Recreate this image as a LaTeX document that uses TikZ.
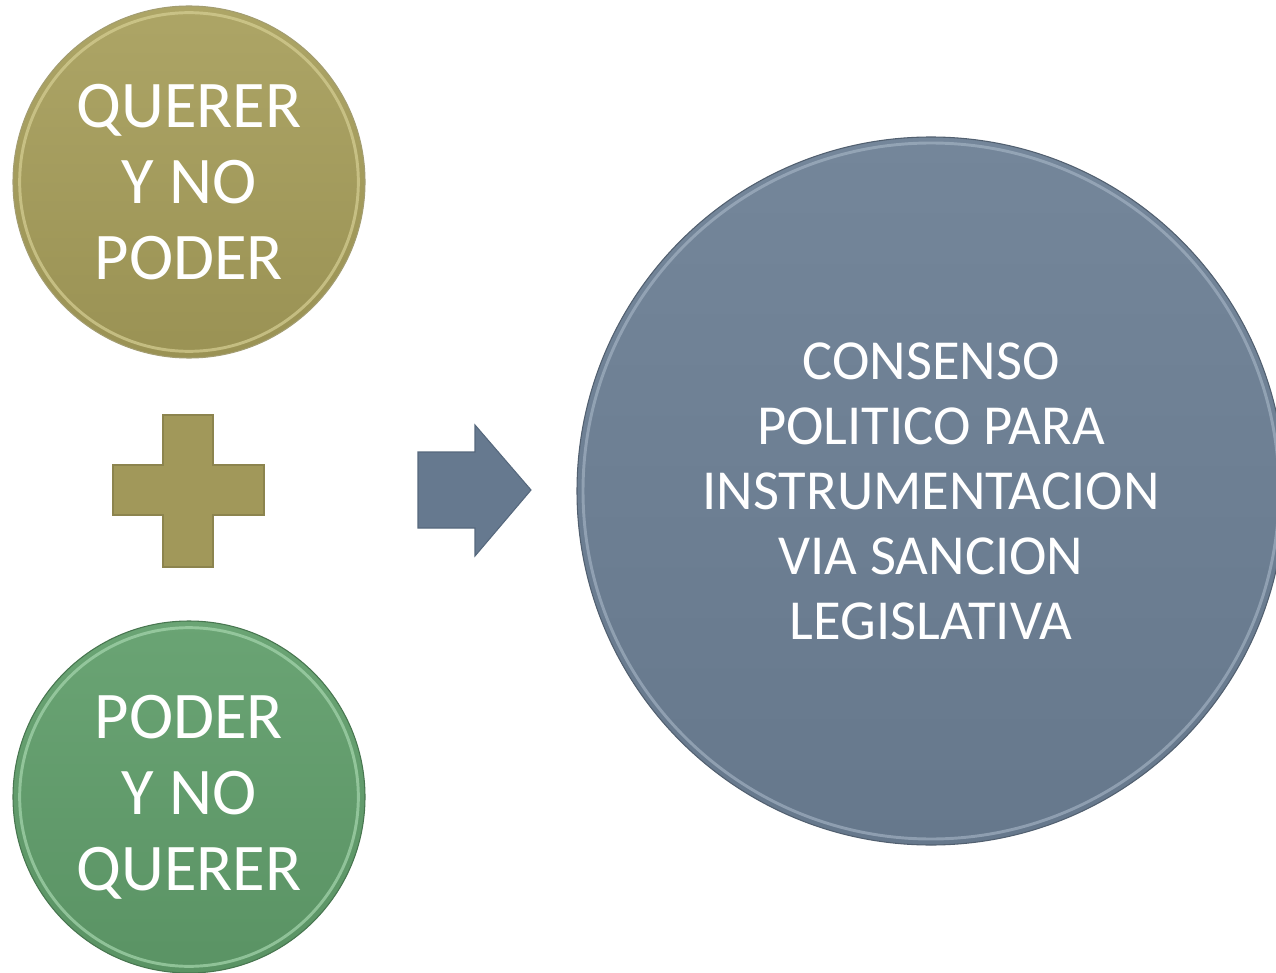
\documentclass[tikz,border=0pt]{standalone}
\usepackage{fontspec}
\setmainfont{Carlito}
\begin{document}
\begin{tikzpicture}[x=0.75pt,y=-0.75pt]
\useasboundingbox (0,0) rectangle (1276,973);
\definecolor{olivelt}{HTML}{ADA566}
\definecolor{olivedk}{HTML}{9A9254}
\definecolor{olivert}{HTML}{D6CF94}
\definecolor{olivepl}{HTML}{A1985A}
\definecolor{oliveln}{HTML}{8C844E}
\definecolor{greenlt}{HTML}{6AA474}
\definecolor{greendk}{HTML}{5A9364}
\definecolor{greenrt}{HTML}{A6D6AE}
\definecolor{slatelt}{HTML}{74869A}
\definecolor{slatedk}{HTML}{66788C}
\definecolor{slatert}{HTML}{A9B8C8}
\definecolor{arrowfill}{HTML}{66798F}
\definecolor{arrowline}{HTML}{56687D}
\tikzset{
  disc/.style={circle, inner sep=0pt, text=white, align=center, shading angle=45},
  smalltext/.style={font=\fontsize{50}{57}\selectfont},
  bigtext/.style={font=\fontsize{42.4}{48.75}\selectfont},
  rim/.style={line width=2.2pt}
}
% top circle
\node[disc, smalltext, minimum size=264pt, top color=olivelt, bottom color=olivedk, draw=oliveln!80, line width=0.8pt] (q) at (189,182) {QUERER\\Y NO\\PODER};
\draw[rim, olivert, opacity=0.7] (q.center) circle (127pt);
% bottom circle
\node[disc, smalltext, minimum size=264pt, top color=greenlt, bottom color=greendk, draw=greendk!80!black, line width=0.8pt] (p) at (189,797) {PODER\\Y NO\\QUERER};
\draw[rim, greenrt, opacity=0.7] (p.center) circle (127pt);
% big circle
\node[disc, bigtext, minimum size=531pt, top color=slatelt, bottom color=slatedk, draw=slatedk!80!black, line width=0.8pt] (c) at (931,491) {CONSENSO\\POLITICO PARA\\INSTRUMENTACION\\VIA SANCION\\LEGISLATIVA};
\draw[rim, slatert, opacity=0.6] (c.center) circle (261pt);
% plus sign
\fill[olivepl, draw=oliveln, line width=0.8pt] (163,415) -- (213,415) -- (213,465) -- (264,465) -- (264,515) -- (213,515) -- (213,567) -- (163,567) -- (163,515) -- (113,515) -- (113,465) -- (163,465) -- cycle;
% block arrow
\fill[arrowfill, draw=arrowline, line width=0.8pt] (418,452) -- (475,452) -- (475,425) -- (531,490) -- (475,556) -- (475,528) -- (418,528) -- cycle;
\end{tikzpicture}
\end{document}
